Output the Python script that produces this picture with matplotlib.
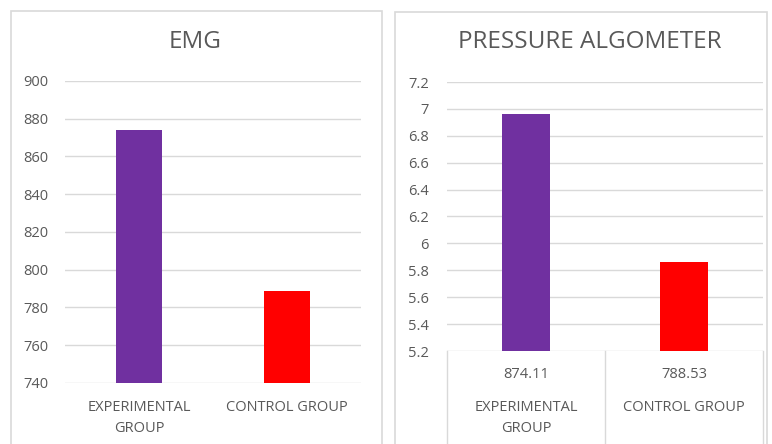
import matplotlib.pyplot as plt
from matplotlib.patches import Rectangle
from matplotlib.ticker import FuncFormatter
import matplotlib.transforms as mtransforms

plt.rcParams['font.family'] = ['Open Sans', 'DejaVu Sans']

groups = ['EXPERIMENTAL\nGROUP', 'CONTROL GROUP']
emg_values = [874.11, 788.53]
pressure_values = [6.96, 5.86]
bar_colors = ['#7030A0', '#FF0000']

emg_ticks = [740, 760, 780, 800, 820, 840, 860, 880, 900]
pressure_ticks = [5.2, 5.4, 5.6, 5.8, 6.0, 6.2, 6.4, 6.6, 6.8, 7.0, 7.2]

text_col = '#595959'
grid_col = '#D9D9D9'
fs = 10.5

fig = plt.figure(figsize=(7.72, 4.44), dpi=100)

# panel frames
fig.patches.append(Rectangle((11 / 772, -0.05), 371 / 772, 1.05 - 11 / 444,
                             transform=fig.transFigure, fill=False,
                             edgecolor=grid_col, lw=1.2))
fig.patches.append(Rectangle((395 / 772, -0.05), 372 / 772, 1.05 - 12 / 444,
                             transform=fig.transFigure, fill=False,
                             edgecolor=grid_col, lw=1.2))


def style_axis(ax, ticks, pad_y):
    ax.set_yticks(ticks)
    ax.set_ylim(ticks[0], ticks[-1])
    ax.set_xlim(-0.5, 1.5)
    ax.yaxis.set_major_formatter(FuncFormatter(lambda v, p: f"{v:g}"))
    ax.grid(axis='y', color=grid_col, lw=1)
    ax.set_axisbelow(True)
    for s in ax.spines.values():
        s.set_visible(False)
    ax.tick_params(axis='both', length=0, colors=text_col, labelsize=fs)
    ax.tick_params(axis='y', pad=pad_y)


# EMG
ax1 = fig.add_axes([65 / 772, 1 - 383 / 444, 296 / 772, 302 / 444])
ax1.bar(range(len(groups)), emg_values, width=0.31, color=bar_colors)
style_axis(ax1, emg_ticks, 12)
ax1.set_xticks(range(len(groups)))
ax1.set_xticklabels(groups, linespacing=1.6)
ax1.tick_params(axis='x', pad=12)
fig.text(195 / 772, 1 - 42 / 444, 'EMG', ha='center', va='center',
         fontsize=17.5, color=text_col)

# Pressure algometer
ax2 = fig.add_axes([447 / 772, 1 - 351 / 444, 316 / 772, 269 / 444])
ax2.bar(range(len(groups)), pressure_values, width=0.31, color=bar_colors)
style_axis(ax2, pressure_ticks, 13)
ax2.set_xticks(range(len(groups)))
ax2.set_xticklabels(groups, linespacing=1.55)
ax2.tick_params(axis='x', pad=35.5)
fig.text(590 / 772, 1 - 42 / 444, 'PRESSURE ALGOMETER', ha='center',
         va='center', fontsize=17.5, color=text_col)

# data table under the pressure chart
for xa in [0, 0.5, 1]:
    ax2.plot([xa, xa], [0, -0.5], transform=ax2.transAxes, color=grid_col,
             lw=1, clip_on=False)
trans = mtransforms.blended_transform_factory(ax2.transData, ax2.transAxes)
for i, v in enumerate(emg_values):
    ax2.text(i, -23 / 269, f"{v:.2f}", transform=trans, ha='center',
             va='center', fontsize=fs, color=text_col)

fig.savefig('out.png', dpi=100)
